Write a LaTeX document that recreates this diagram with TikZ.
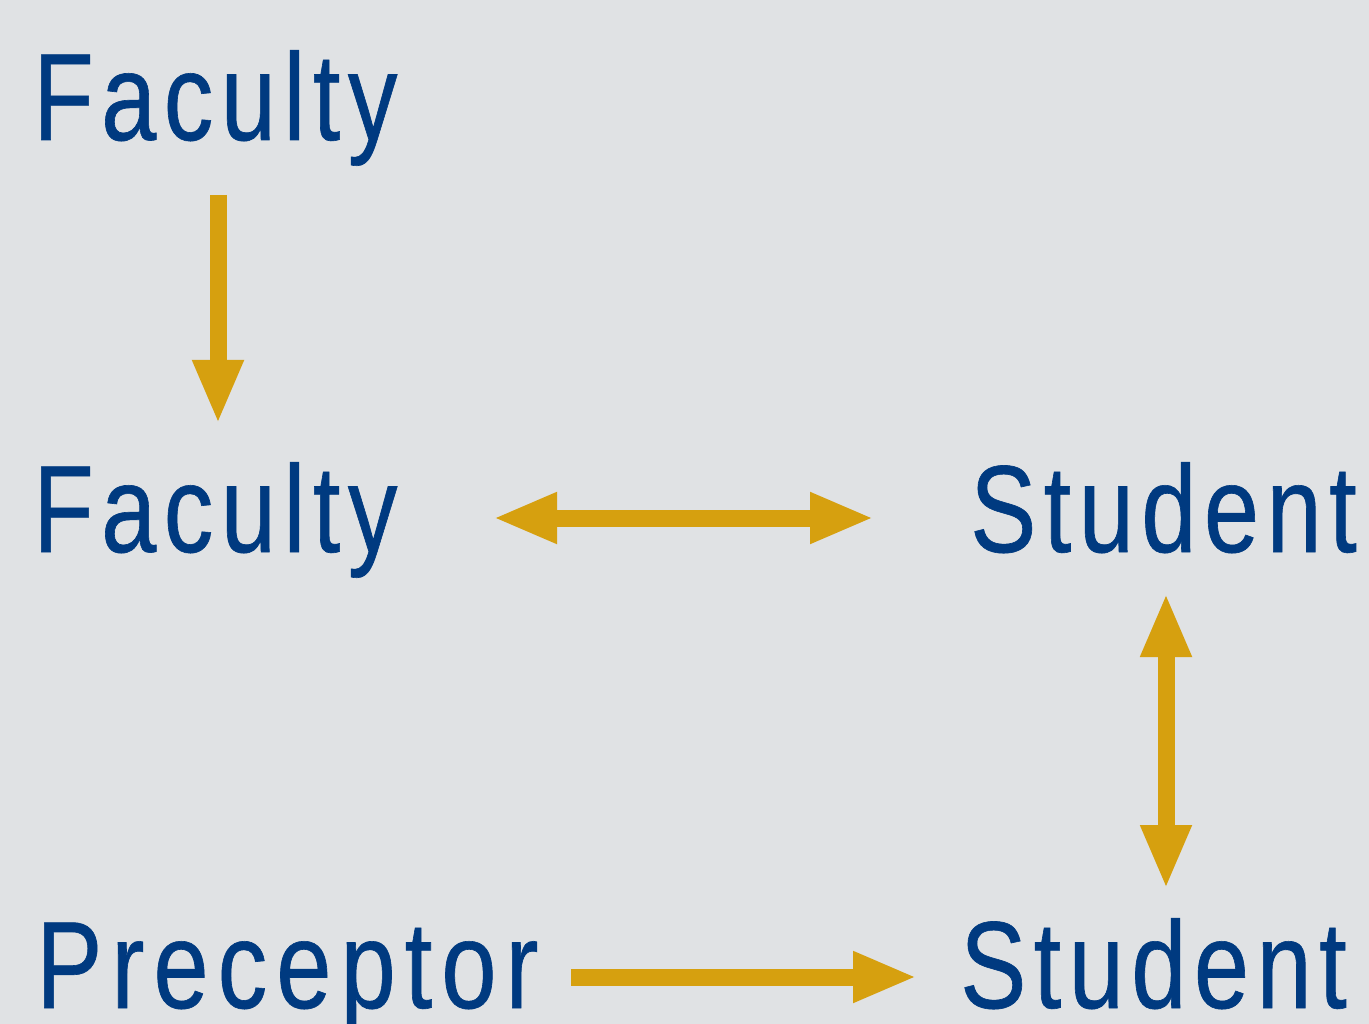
\documentclass[tikz,border=0pt]{standalone}
\usepackage{fontspec}
\setmainfont{Liberation Sans}[FakeStretch=0.80,LetterSpace=6,FakeBold=0.5]
\usetikzlibrary{arrows.meta}
\definecolor{bg}{HTML}{E0E2E4}
\definecolor{navy}{HTML}{003A80}
\definecolor{gold}{HTML}{D6A00F}
\tikzset{
  lbl/.style={anchor=base west,inner sep=0pt,text=navy,font=\fontsize{124}{124}\selectfont},
  conn/.style={draw=gold,line width=17pt,
    -{Triangle[length=64pt,width=47pt]}},
  conn2/.style={draw=gold,line width=17pt,
    {Triangle[length=64pt,width=47pt]}-{Triangle[length=64pt,width=47pt]}}
}
\begin{document}
\begin{tikzpicture}[x=1pt,y=-1pt]
\fill[bg] (0,0) rectangle (1369,1024);
\useasboundingbox (0,0) rectangle (1369,1024);
\node[lbl] (fac1) at (33,140) {Faculty};
\node[lbl] (fac2) at (33,552) {Faculty};
\node[lbl] (stu1) at (970,552) {Student};
\node[lbl] (pre) at (36,1008) {\addfontfeatures{LetterSpace=7.3}Preceptor};
\node[lbl] (stu2) at (960,1008) {Student};
\coordinate (a1s) at (218,195);
\coordinate (a1e) at (218,424);
\coordinate (a2s) at (493,518);
\coordinate (a2e) at (874,518);
\coordinate (a3s) at (1166,593);
\coordinate (a3e) at (1166,889);
\coordinate (a4s) at (571,977);
\coordinate (a4e) at (917,977);
\draw[conn] (a1s) -- (a1e);
\draw[conn2] (a2s) -- (a2e);
\draw[conn2] (a3s) -- (a3e);
\draw[conn] (a4s) -- (a4e);
\end{tikzpicture}
\end{document}
